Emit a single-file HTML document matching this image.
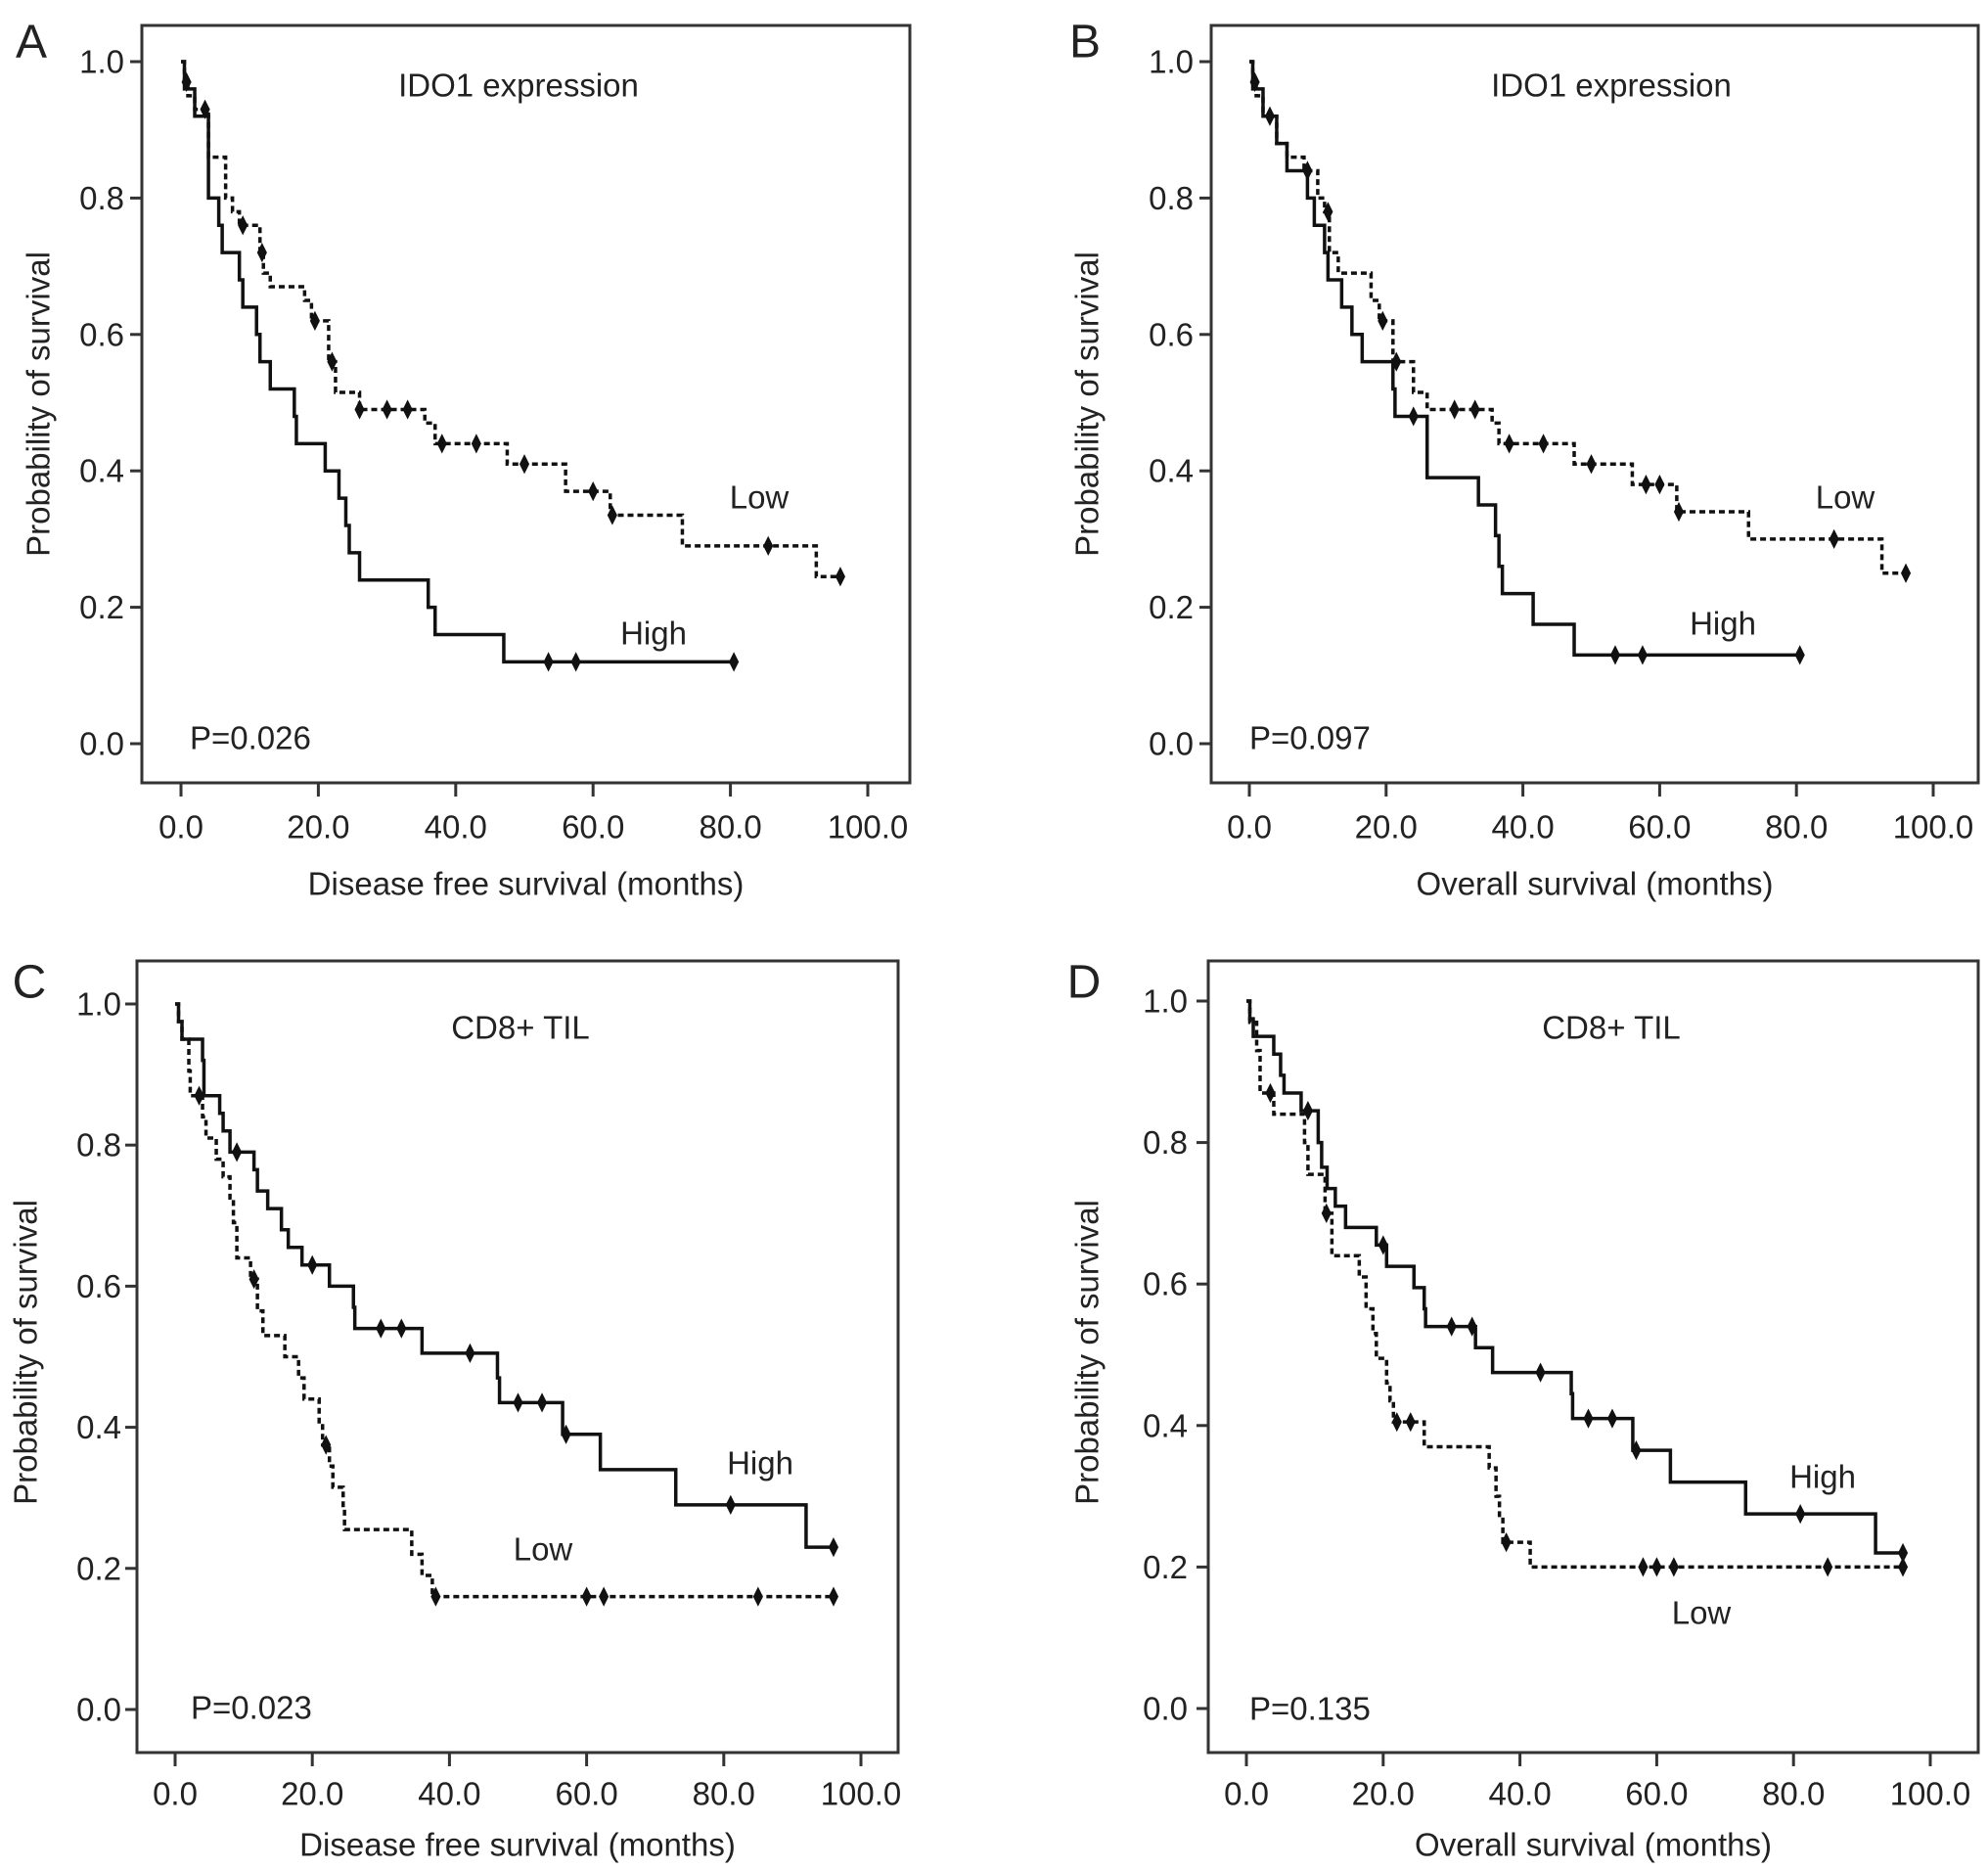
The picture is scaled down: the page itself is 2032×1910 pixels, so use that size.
<!DOCTYPE html>
<html><head><meta charset="utf-8"><style>
html,body{margin:0;padding:0;background:#fff}
svg{display:block}
text{font-family:"Liberation Sans",Arial,sans-serif;fill:#222}
</style></head><body>
<svg id="fig" width="2032" height="1910" viewBox="0 0 2032 1910" xmlns="http://www.w3.org/2000/svg"></svg>
<script>
// ---- Data (months, survival probability) ----
const xTicks = [0, 20, 40, 60, 80, 100];
const xTickLabels = ["0.0", "20.0", "40.0", "60.0", "80.0", "100.0"];
const yTicks = [0, 0.2, 0.4, 0.6, 0.8, 1.0];
const yTickLabels = ["0.0", "0.2", "0.4", "0.6", "0.8", "1.0"];

// Panel A: IDO1, disease free survival
const aHighT = [0.5, 2, 4, 5.5, 6, 8.5, 9, 11, 11.5, 13, 16.5, 16.8, 21, 23, 24, 24.5, 26, 36, 37, 47];
const aHighS = [0.96, 0.92, 0.80, 0.76, 0.72, 0.68, 0.64, 0.60, 0.56, 0.52, 0.48, 0.44, 0.40, 0.36, 0.32, 0.28, 0.24, 0.20, 0.16, 0.12];
const aHighC = [53.5, 57.5, 80.5];
const aLowT = [0.5, 1, 2, 4, 6.5, 7.5, 8.5, 11.5, 12, 13, 18, 19, 21.5, 22.5, 26, 35.5, 37, 47.5, 56, 62.5, 73, 92.5];
const aLowS = [0.97, 0.95, 0.93, 0.86, 0.80, 0.78, 0.76, 0.72, 0.69, 0.67, 0.65, 0.62, 0.56, 0.515, 0.49, 0.47, 0.44, 0.41, 0.37, 0.335, 0.29, 0.245];
const aLowC = [0.8, 3.5, 9, 11.8, 19.5, 22, 26, 30, 33, 38, 43, 50, 60, 62.8, 85.5, 96];

// Panel B: IDO1, overall survival
const bHighT = [0.5, 2, 4, 5.5, 8.5, 9.5, 11, 11.5, 13.5, 15, 16.5, 21, 21.3, 26, 33.5, 36, 36.5, 37, 41.5, 47.5];
const bHighS = [0.96, 0.92, 0.88, 0.84, 0.80, 0.76, 0.72, 0.68, 0.64, 0.60, 0.56, 0.52, 0.48, 0.39, 0.35, 0.305, 0.26, 0.22, 0.175, 0.13];
const bHighC = [24, 53.5, 57.5, 80.5];
const bLowT = [0.5, 1, 2, 4, 5.5, 8, 10, 11, 11.7, 13, 17.8, 19, 21, 24, 26, 35.5, 36.5, 47.5, 56, 62.5, 73, 92.5];
const bLowS = [0.97, 0.95, 0.92, 0.88, 0.86, 0.84, 0.80, 0.78, 0.72, 0.69, 0.65, 0.62, 0.56, 0.515, 0.49, 0.47, 0.44, 0.41, 0.38, 0.34, 0.30, 0.25];
const bLowC = [0.8, 3, 8.5, 11.5, 19.5, 21.5, 30, 33, 38, 43, 50, 58, 60, 62.8, 85.5, 96];

// Panel C: CD8+ TIL, disease free survival
const cHighT = [0.5, 1, 4, 4.2, 6.5, 7, 8, 11.5, 12, 13.5, 15.5, 16.5, 18.5, 22.5, 26, 26.2, 36, 47, 47.3, 56.5, 62, 73, 92];
const cHighS = [0.975, 0.95, 0.92, 0.87, 0.845, 0.82, 0.79, 0.765, 0.735, 0.71, 0.68, 0.655, 0.63, 0.60, 0.57, 0.54, 0.505, 0.47, 0.435, 0.39, 0.34, 0.29, 0.23];
const cHighC = [9, 20, 30, 33, 43, 50, 53.5, 57, 81, 96];
const cLowT = [0.5, 1, 2, 2.2, 4, 4.5, 6, 7, 8, 8.5, 9, 11, 12, 12.8, 16, 18, 18.8, 21, 21.5, 22.5, 23, 24.5, 24.7, 34.5, 36, 37.5];
const cLowS = [0.975, 0.95, 0.905, 0.87, 0.84, 0.81, 0.78, 0.755, 0.725, 0.69, 0.64, 0.61, 0.565, 0.53, 0.50, 0.47, 0.44, 0.405, 0.375, 0.345, 0.315, 0.285, 0.255, 0.22, 0.19, 0.16];
const cLowC = [3.5, 11.5, 22, 38, 60, 62.5, 85, 96];

// Panel D: CD8+ TIL, overall survival
const dHighT = [0.5, 1, 4, 5, 5.5, 8, 10.5, 11, 11.8, 13, 14.5, 19, 20.5, 24.5, 26, 26.2, 33.5, 36, 47.5, 47.7, 56.5, 62, 73, 92];
const dHighS = [0.975, 0.95, 0.925, 0.895, 0.87, 0.845, 0.80, 0.765, 0.735, 0.71, 0.68, 0.655, 0.625, 0.595, 0.565, 0.54, 0.51, 0.475, 0.445, 0.41, 0.365, 0.32, 0.275, 0.22];
const dHighC = [9, 20, 30, 33, 43, 50, 53.5, 57, 81, 96];
const dLowT = [0.5, 1.5, 2, 4, 8.5, 9, 11.5, 12.5, 16.5, 17.5, 18.5, 19, 20.5, 21, 21.5, 26, 35.5, 36.5, 37, 37.5, 41.5];
const dLowS = [0.97, 0.93, 0.87, 0.84, 0.80, 0.755, 0.70, 0.64, 0.61, 0.565, 0.53, 0.495, 0.46, 0.435, 0.405, 0.37, 0.34, 0.30, 0.27, 0.235, 0.20];
const dLowC = [3.5, 11.7, 22, 24, 38, 58, 60, 62.5, 85, 96];

// ---- Layout ----
const panels = [
  {id:"a", letter:"A", box:[145,26,930,800], x0:185, x100:887, y1:63, y0:760, labR:127, title:"IDO1 expression", tx:530, ty:87,
   p:"P=0.026", px:194, py:754, xt:"Disease free survival (months)", xtY:903, xtl:845, ytX:39, ytY:413, lx:32, ly:43,
   series:[{n:"high",t:aHighT,s:aHighS,c:aHighC,dash:false,lab:"High",lx:668,ly:647},{n:"low",t:aLowT,s:aLowS,c:aLowC,dash:true,lab:"Low",lx:776,ly:508}]},
  {id:"b", letter:"B", box:[1238,26,2022,800], x0:1277, x100:1976, y1:63, y0:760, labR:1220, title:"IDO1 expression", tx:1647, ty:87,
   p:"P=0.097", px:1277, py:754, xt:"Overall survival (months)", xtY:903, xtl:845, ytX:1111, ytY:413, lx:1109, ly:43,
   series:[{n:"high",t:bHighT,s:bHighS,c:bHighC,dash:false,lab:"High",lx:1761,ly:637},{n:"low",t:bLowT,s:bLowS,c:bLowC,dash:true,lab:"Low",lx:1886,ly:508}]},
  {id:"c", letter:"C", box:[140,982,918,1791], x0:179, x100:880, y1:1026, y0:1747, labR:124, title:"CD8+ TIL", tx:532, ty:1050,
   p:"P=0.023", px:195, py:1745, xt:"Disease free survival (months)", xtY:1885, xtl:1833, ytX:26, ytY:1382, lx:30, ly:1004,
   series:[{n:"high",t:cHighT,s:cHighS,c:cHighC,dash:false,lab:"High",lx:777,ly:1495},{n:"low",t:cLowT,s:cLowS,c:cLowC,dash:true,lab:"Low",lx:555,ly:1583}]},
  {id:"d", letter:"D", box:[1235,982,2022,1791], x0:1274, x100:1973, y1:1023, y0:1746, labR:1214, title:"CD8+ TIL", tx:1647, ty:1050,
   p:"P=0.135", px:1277, py:1746, xt:"Overall survival (months)", xtY:1885, xtl:1833, ytX:1111, ytY:1382, lx:1108, ly:1004,
   series:[{n:"high",t:dHighT,s:dHighS,c:dHighC,dash:false,lab:"High",lx:1863,ly:1509},{n:"low",t:dLowT,s:dLowS,c:dLowC,dash:true,lab:"Low",lx:1739,ly:1648}]}
];

const FS = 33;
const NS = "http://www.w3.org/2000/svg";
const svg = document.getElementById("fig");
function mk(tag, attrs, parent, txt){
  const e = document.createElementNS(NS, tag);
  for (const k in attrs) e.setAttribute(k, attrs[k]);
  if (txt !== undefined) e.textContent = txt;
  parent.appendChild(e);
  return e;
}
function level(t, s, time){
  let v = 1;
  for (let i = 0; i < t.length; i++) if (t[i] <= time) v = s[i];
  return v;
}

panels.forEach(P => {
  const g = mk("g", {}, svg);
  
  
  const X = v => P.x0 + (P.x100 - P.x0) * v / 100;
  const Y = v => P.y0 + (P.y1 - P.y0) * v;
  const [bl, bt, br, bb] = P.box;

  const box = mk("rect", {x:bl, y:bt, width:br-bl, height:bb-bt, fill:"none", stroke:"#333", "stroke-width":3}, g);
  
  

  const lt = mk("text", {x:P.lx, y:P.ly, "font-size":48, "text-anchor":"middle", "dominant-baseline":"central"}, g, P.letter);
  
  

  yTicks.forEach((v, i) => {
    const tk = mk("line", {x1:bl-12, x2:bl, y1:Y(v), y2:Y(v), stroke:"#333", "stroke-width":3}, g);
    
    
    const tl = mk("text", {x:P.labR, y:Y(v), "font-size":FS, "text-anchor":"end", "dominant-baseline":"central"}, g, yTickLabels[i]);
    
    
  });
  xTicks.forEach((v, i) => {
    const tk = mk("line", {x1:X(v), x2:X(v), y1:bb, y2:bb+14, stroke:"#333", "stroke-width":3}, g);
    
    
    const tl = mk("text", {x:X(v), y:P.xtl, "font-size":FS, "text-anchor":"middle", "dominant-baseline":"central"}, g, xTickLabels[i]);
    
    
  });

  const xt = mk("text", {x:(bl+br)/2, y:P.xtY, "font-size":FS, "text-anchor":"middle", "dominant-baseline":"central"}, g, P.xt);
  
  
  const yt = mk("text", {x:P.ytX, y:P.ytY, "font-size":FS, "text-anchor":"middle", "dominant-baseline":"central", transform:`rotate(-90 ${P.ytX} ${P.ytY})`}, g, "Probability of survival");
  
  
  const ti = mk("text", {x:P.tx, y:P.ty, "font-size":FS, "text-anchor":"middle", "dominant-baseline":"central"}, g, P.title);
  
  
  const pv = mk("text", {x:P.px, y:P.py, "font-size":FS, "dominant-baseline":"central"}, g, P.p);
  
  

  P.series.forEach(S => {
    const end = Math.max(...S.c, S.t[S.t.length-1]);
    let d = `M${X(0)},${Y(1)}`;
    for (let i = 0; i < S.t.length; i++) d += ` H${X(S.t[i])} V${Y(S.s[i])}`;
    d += ` H${X(end)}`;
    const attrs = {d:d, fill:"none", stroke:"#111", "stroke-width":S.dash?3.5:3.5};
    if (S.dash) attrs["stroke-dasharray"] = "6,4";
    const path = mk("path", attrs, g);
    
    
    S.c.forEach(ct => {
      const cx = X(ct), cy = Y(level(S.t, S.s, ct));
      const m = mk("path", {d:`M${cx},${cy-9} L${cx+4.5},${cy} L${cx},${cy+9} L${cx-4.5},${cy} Z`, fill:"#111", stroke:"#111", "stroke-width":1}, g);
      
      
    });
    const lb = mk("text", {x:S.lx, y:S.ly, "font-size":FS, "text-anchor":"middle", "dominant-baseline":"central"}, g, S.lab);
    
    
  });
});
</script>
</body></html>
